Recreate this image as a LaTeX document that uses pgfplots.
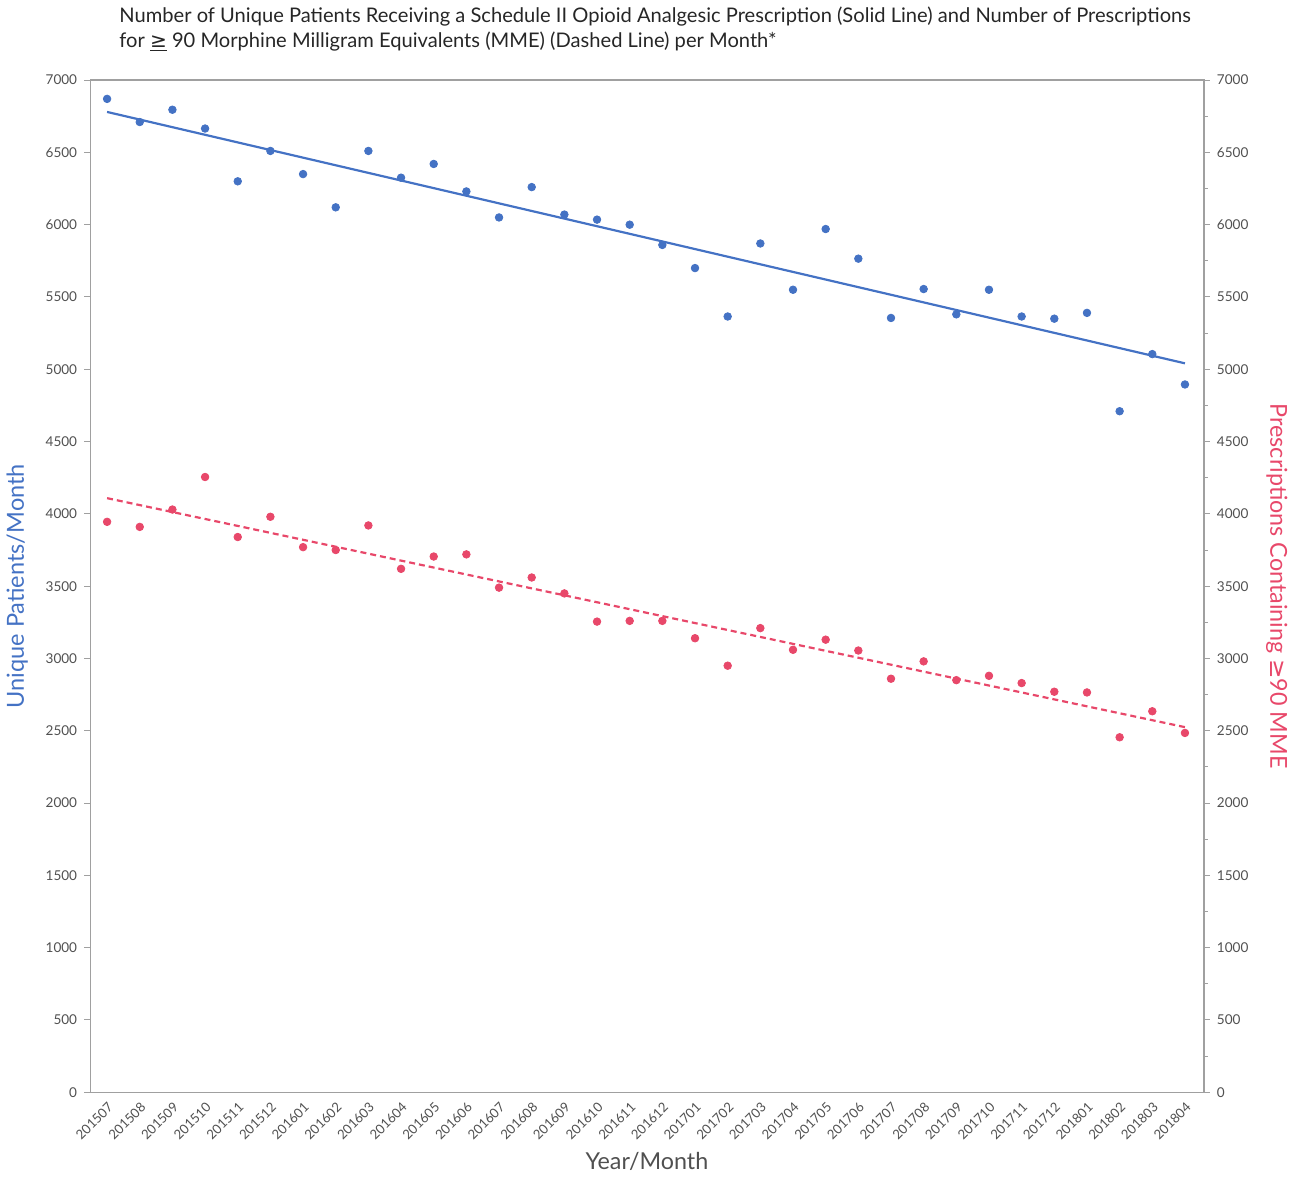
\documentclass[border=0pt]{standalone}
\usepackage{fontspec}
\setmainfont{Lato}
\newfontfamily\sym{DejaVu Sans}
\usepackage{pgfplots}
\usepackage{pgfplotstable}
\pgfplotsset{compat=1.18}
\definecolor{pblue}{HTML}{4472C4}
\definecolor{pred}{HTML}{E8486A}
\definecolor{tgrey}{HTML}{505050}
\definecolor{agrey}{HTML}{A0A0A0}

\pgfplotstableread{
x b r
0 6870 3945
1 6710 3910
2 6795 4030
3 6665 4255
4 6300 3840
5 6510 3980
6 6350 3770
7 6120 3750
8 6510 3920
9 6325 3620
10 6420 3705
11 6230 3720
12 6050 3490
13 6260 3560
14 6070 3450
15 6035 3255
16 6000 3260
17 5860 3260
18 5700 3140
19 5365 2950
20 5870 3210
21 5550 3060
22 5970 3130
23 5765 3055
24 5355 2860
25 5555 2980
26 5380 2850
27 5550 2880
28 5365 2830
29 5350 2770
30 5390 2765
31 4710 2455
32 5105 2635
33 4895 2485
}\data

\begin{document}
\begin{tikzpicture}
\pgfplotsset{
  common/.style={
    width=559pt, height=508pt, scale only axis,
    xmin=-0.52, xmax=33.58, ymin=0, ymax=7000,
    axis line style={agrey, line width=0.6pt},
    tick style={agrey, line width=0.5pt},
    tick align=outside,
    major tick length=3pt,
    minor tick length=2pt,
    /pgf/number format/assume math mode=true,
    /pgf/number format/1000 sep={},
    ytick={0,500,...,7000},
    tick label style={font=\fontsize{6.8}{8}\selectfont, text=tgrey},
  }
}
\begin{axis}[common,
  ytick pos=left,
  xtick={0,...,33},
  xtick pos=bottom,
  x tick style={draw=none},
  xticklabels={201507,201508,201509,201510,201511,201512,201601,201602,201603,201604,201605,201606,201607,201608,201609,201610,201611,201612,201701,201702,201703,201704,201705,201706,201707,201708,201709,201710,201711,201712,201801,201802,201803,201804},
  x tick label style={rotate=45, anchor=north east, inner sep=1pt, font=\fontsize{6.6}{7}\selectfont},
  xlabel={Year/Month},
  xlabel style={font=\fontsize{11.7}{13}\selectfont, text=tgrey, yshift=-1pt},
  ylabel={Unique Patients/Month},
  ylabel style={font=\fontsize{11.8}{13}\selectfont, text=pblue, yshift=2pt},
  title={Number of Unique Patients Receiving a Schedule II Opioid Analgesic Prescription (Solid Line) and Number of Prescriptions\\for {\sym\underline{≥}} 90 Morphine Milligram Equivalents (MME) (Dashed Line) per Month*},
  title style={align=left, at={(0.02,1)}, anchor=south west, yshift=5pt, font=\fontsize{10.1}{12.5}\selectfont, text=black!85},
]
\addplot[only marks, mark=*, mark size=1.9pt, pblue, mark options={draw=none, fill=pblue}] table[x=x, y=b] {\data};
\addplot[pblue, line width=1.1pt] table[x=x, y={create col/linear regression={y=b}}] {\data};
\end{axis}
\begin{axis}[common,
  axis y line*=right,
  axis x line=none,
  minor y tick num=1,
  ylabel={Prescriptions Containing {\sym ≥}90 MME},
  ylabel style={font=\fontsize{11.7}{13}\selectfont, text=pred, rotate=180, yshift=2pt},
]
\addplot[only marks, mark=*, mark size=1.9pt, pred, mark options={draw=none, fill=pred}] table[x=x, y=r] {\data};
\addplot[pred, line width=1.1pt, dash pattern=on 3pt off 2pt] table[x=x, y={create col/linear regression={y=r}}] {\data};
\end{axis}
\end{tikzpicture}
\end{document}
